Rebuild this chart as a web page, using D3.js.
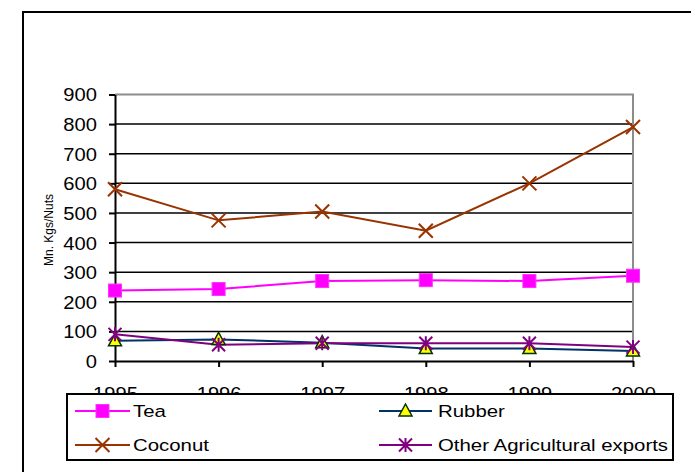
<!DOCTYPE html>
<html><head><meta charset="utf-8">
<script src="https://cdn.jsdelivr.net/npm/d3@7"></script>
<style>
html,body{margin:0;padding:0;background:#fff;}
svg{display:block;font-family:"Liberation Sans",Arial,sans-serif;}
</style></head>
<body>
<svg id="chart" width="691" height="472"></svg>
<script>
const years = ["1995","1996","1997","1998","1999","2000"];
const tea = [238, 243, 270, 273, 270, 288];
const rubber = [68, 73, 62, 42, 42, 34];
const coconut = [580, 475, 505, 440, 600, 790];
const other = [90, 55, 60, 60, 60, 47];
const yTicks = [0,100,200,300,400,500,600,700,800,900];
const seriesNames = ["Tea","Rubber","Coconut","Other Agricultural exports"];

const svg = d3.select("#chart");
const L = 115, R = 633, T = 94.5, B = 361;
const x = d3.scalePoint().domain(years).range([L, R]).padding(0);
const y = d3.scaleLinear().domain([0, 900]).range([B, T]);

// outer border (extends beyond right/bottom)
svg.append("rect").attr("x",23).attr("y",12).attr("width",700).attr("height",500)
  .attr("fill","none").attr("stroke","#000").attr("stroke-width",2);

// gridlines
svg.append("g").selectAll("line").data(yTicks.filter(d=>d>0 && d<900)).join("line")
  .attr("x1",L).attr("x2",R).attr("y1",d=>y(d)).attr("y2",d=>y(d))
  .attr("stroke","#000").attr("stroke-width",1.5);

// plot area border top/right (gray)
svg.append("path").attr("d",`M${L},${y(900)}H${R}V${B}`)
  .attr("fill","none").attr("stroke","#8c8c8c").attr("stroke-width",2);

// y axis
const gy = svg.append("g").attr("transform",`translate(${L},0)`)
  .call(d3.axisLeft(y).tickValues(yTicks).tickSize(6).tickSizeOuter(0).tickFormat(d3.format("d")));
gy.select(".domain").attr("stroke","#000").attr("stroke-width",2);
gy.selectAll(".tick line").attr("stroke","#000").attr("stroke-width",2);
gy.selectAll(".tick text").attr("x",0).attr("dy","0.36em")
  .attr("transform","translate(-18,0) scale(1.12,1)")
  .style("font-size","18px").attr("fill","#000").attr("font-family",null);

// x axis
const gx = svg.append("g").attr("transform",`translate(0,${B})`)
  .call(d3.axisBottom(x).tickSize(6).tickSizeOuter(0));
gx.select(".domain").attr("stroke","#000").attr("stroke-width",2);
gx.selectAll(".tick line").attr("stroke","#000").attr("stroke-width",2);
gx.selectAll(".tick text").attr("y",0).attr("dy",0)
  .attr("transform","translate(0,39) scale(1.12,1)")
  .style("font-size","18px").attr("fill","#000").attr("font-family",null);

// y axis title
svg.append("text").attr("transform","translate(53,230) rotate(-90)")
  .attr("text-anchor","middle").style("font-size","12px").text("Mn. Kgs/Nuts");

// marker drawers
function mSquare(g, cx, cy){ g.append("rect").attr("x",cx-6.5).attr("y",cy-6.5).attr("width",13).attr("height",13)
  .attr("fill","#ff00ff").attr("stroke","#ff33ff").attr("stroke-width",1); }
function mTri(g, cx, cy){ g.append("path").attr("d",`M${cx},${cy-7}L${cx+6.5},${cy+5}L${cx-6.5},${cy+5}Z`)
  .attr("fill","#ffff00").attr("stroke","#003300").attr("stroke-width",1.5); }
function mX(g, cx, cy){ g.append("path").attr("d",`M${cx-7},${cy-7}L${cx+7},${cy+7}M${cx-7},${cy+7}L${cx+7},${cy-7}`)
  .attr("stroke","#993300").attr("stroke-width",2).attr("fill","none"); }
function mStar(g, cx, cy){ g.append("path").attr("d",`M${cx-6.5},${cy-6.5}L${cx+6.5},${cy+6.5}M${cx-6.5},${cy+6.5}L${cx+6.5},${cy-6.5}M${cx},${cy-7}V${cy+7}`)
  .attr("stroke","#800080").attr("stroke-width",2).attr("fill","none"); }

const series = [
  {name:seriesNames[0], values:tea, color:"#ff00ff", marker:mSquare},
  {name:seriesNames[1], values:rubber, color:"#003366", marker:mTri},
  {name:seriesNames[2], values:coconut, color:"#993300", marker:mX},
  {name:seriesNames[3], values:other, color:"#800080", marker:mStar}
];
const line = d3.line().x((d,i)=>x(years[i])).y(d=>y(d));
const drawOrder = [0,2,1,3];
drawOrder.forEach(k=>{
  const s = series[k];
  svg.append("path").attr("d",line(s.values)).attr("fill","none")
    .attr("stroke",s.color).attr("stroke-width",2);
});
drawOrder.forEach(k=>{
  const s = series[k];
  const g = svg.append("g");
  s.values.forEach((v,i)=>s.marker(g, x(years[i]), y(v)));
});

// legend
const lg = svg.append("g");
lg.append("rect").attr("x",67).attr("y",394).attr("width",606).attr("height",66)
  .attr("fill","#fff").attr("stroke","#000").attr("stroke-width",2);
const legPos = [
  {x1:75, x2:130, tx:133, y:411},
  {x1:379, x2:432, tx:438, y:411},
  {x1:75, x2:130, tx:133, y:445},
  {x1:379, x2:432, tx:438, y:445}
];
series.forEach((s,k)=>{
  const p = legPos[k];
  lg.append("line").attr("x1",p.x1).attr("x2",p.x2).attr("y1",p.y).attr("y2",p.y)
    .attr("stroke",s.color).attr("stroke-width",2);
  s.marker(lg, (p.x1+p.x2)/2, p.y);
  lg.append("text").attr("transform",`translate(${p.tx},${p.y}) scale(1.2,1)`)
    .attr("dy","0.36em").style("font-size","17px").text(s.name);
});
</script>
</body></html>
